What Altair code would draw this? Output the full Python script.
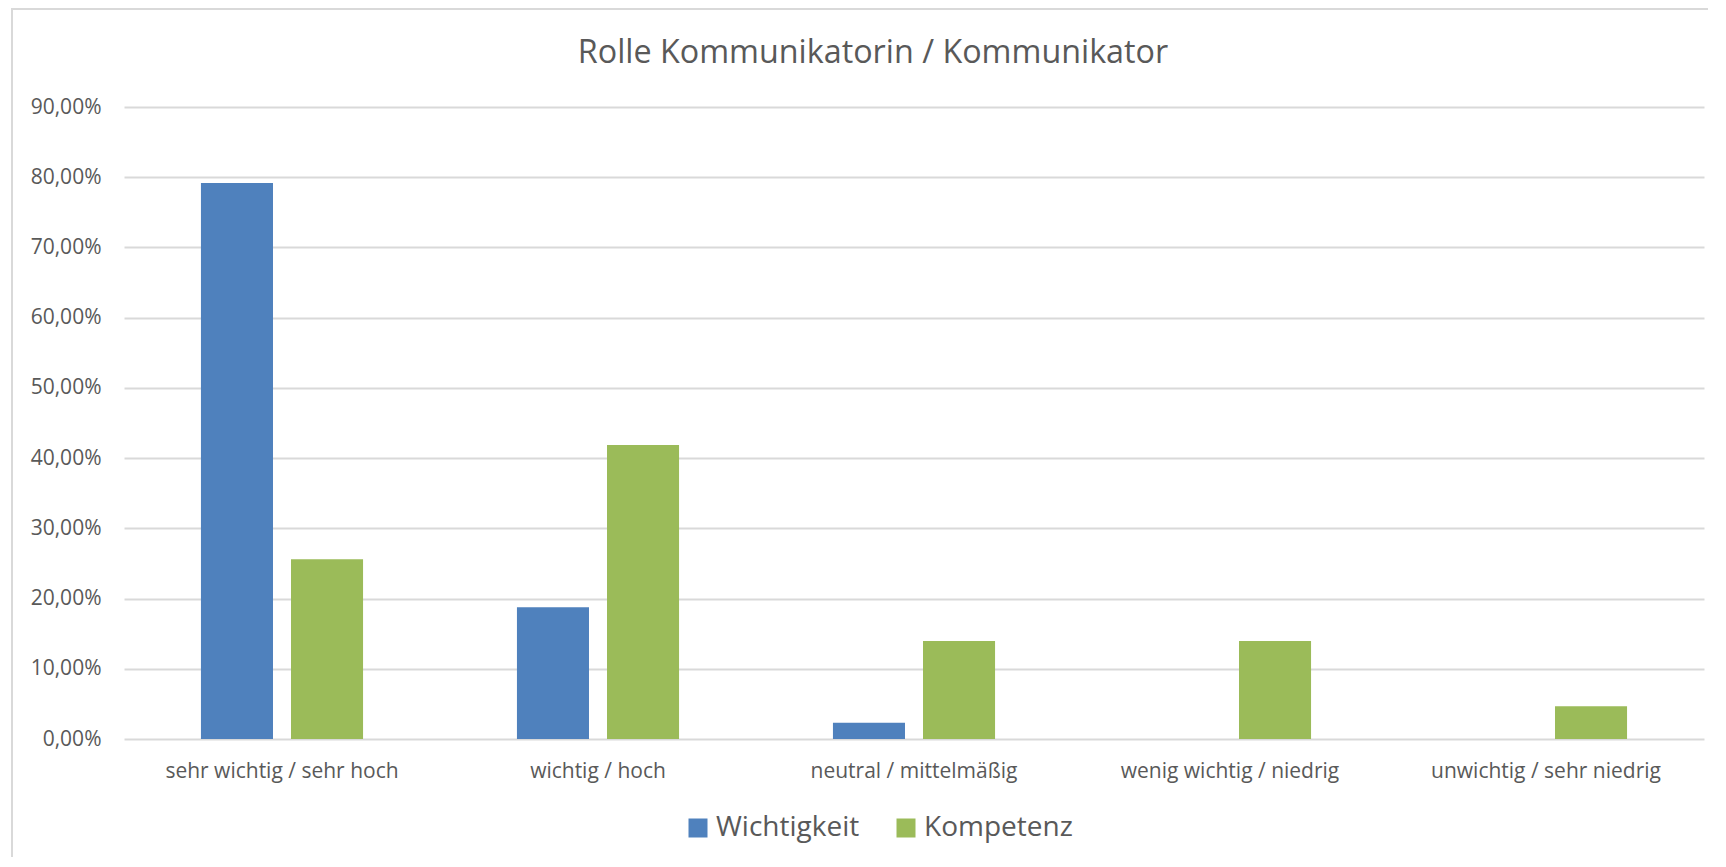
import altair as alt
import pandas as pd

categories = ["sehr wichtig / sehr hoch", "wichtig / hoch", "neutral / mittelmäßig",
              "wenig wichtig / niedrig", "unwichtig / sehr niedrig"]
series = ["Wichtigkeit", "Kompetenz"]
wichtigkeit = [0.7917, 0.1875, 0.023, 0.0, 0.0]
kompetenz = [0.2558, 0.4186, 0.1395, 0.1395, 0.0465]
colors = ["#4F81BD", "#9BBB59"]
title_text = "Rolle Kommunikatorin / Kommunikator"

rows = []
for c, w, k in zip(categories, wichtigkeit, kompetenz):
    rows.append({"Kategorie": c, "Serie": series[0], "Wert": w})
    rows.append({"Kategorie": c, "Serie": series[1], "Wert": k})
df = pd.DataFrame(rows)

FONT = "Open Sans"
GREY = "#595959"
W, H = 1580, 632

bars = alt.Chart(df).mark_bar().encode(
    x=alt.X("Kategorie:N", sort=categories, title=None,
            scale=alt.Scale(paddingInner=0.487, paddingOuter=0.2435),
            axis=alt.Axis(labelAngle=0, labelFont=FONT, labelFontSize=21, labelColor=GREY,
                          labelPadding=21, ticks=False, domain=False, grid=False,
                          labelBaseline="top", labelLimit=0)),
    xOffset=alt.XOffset("Serie:N", sort=series,
                        scale=alt.Scale(paddingInner=0.2, paddingOuter=0)),
    y=alt.Y("Wert:Q", title=None,
            scale=alt.Scale(domain=[0, 0.9], nice=False),
            axis=alt.Axis(values=[0, 0.1, 0.2, 0.3, 0.4, 0.5, 0.6, 0.7, 0.8, 0.9],
                          labelExpr="replace(format(datum.value, '.2%'), '.', ',')",
                          labelFont=FONT, labelFontSize=21, labelColor=GREY,
                          labelPadding=23, ticks=False, domain=False,
                          grid=True, gridColor="#d9d9d9", gridWidth=2)),
    color=alt.Color("Serie:N", sort=series,
                    scale=alt.Scale(domain=series, range=colors),
                    legend=alt.Legend(title=None, orient="none", direction="horizontal",
                                      legendX=560, legendY=707, padding=0,
                                      symbolType="square", symbolSize=361,
                                      symbolStrokeWidth=0, labelFont=FONT,
                                      labelFontSize=28, labelColor=GREY,
                                      labelOffset=4, columnPadding=32)),
)

frame = alt.Chart(pd.DataFrame({"f": [0]})).mark_rect(
    fill="transparent", stroke="#d9d9d9", strokeWidth=2
).encode(
    x=alt.value(-112), x2=alt.value(W + 40),
    y=alt.value(-98), y2=alt.value(H + 300),
)

title = alt.Chart(pd.DataFrame({"t": [title_text]})).mark_text(
    font=FONT, fontSize=32.3, color=GREY, align="center", baseline="alphabetic"
).encode(
    text="t:N",
    x=alt.value(W / 2 - 41), y=alt.value(-44),
)

chart = alt.layer(frame, bars, title).properties(
    width=W, height=H,
    padding={"left": 116, "top": 99, "right": 4, "bottom": 118},
    autosize=alt.AutoSizeParams(type="none"),
).configure_view(stroke=None)

chart.save("out.html", embed_options={"renderer": "svg", "actions": False})
